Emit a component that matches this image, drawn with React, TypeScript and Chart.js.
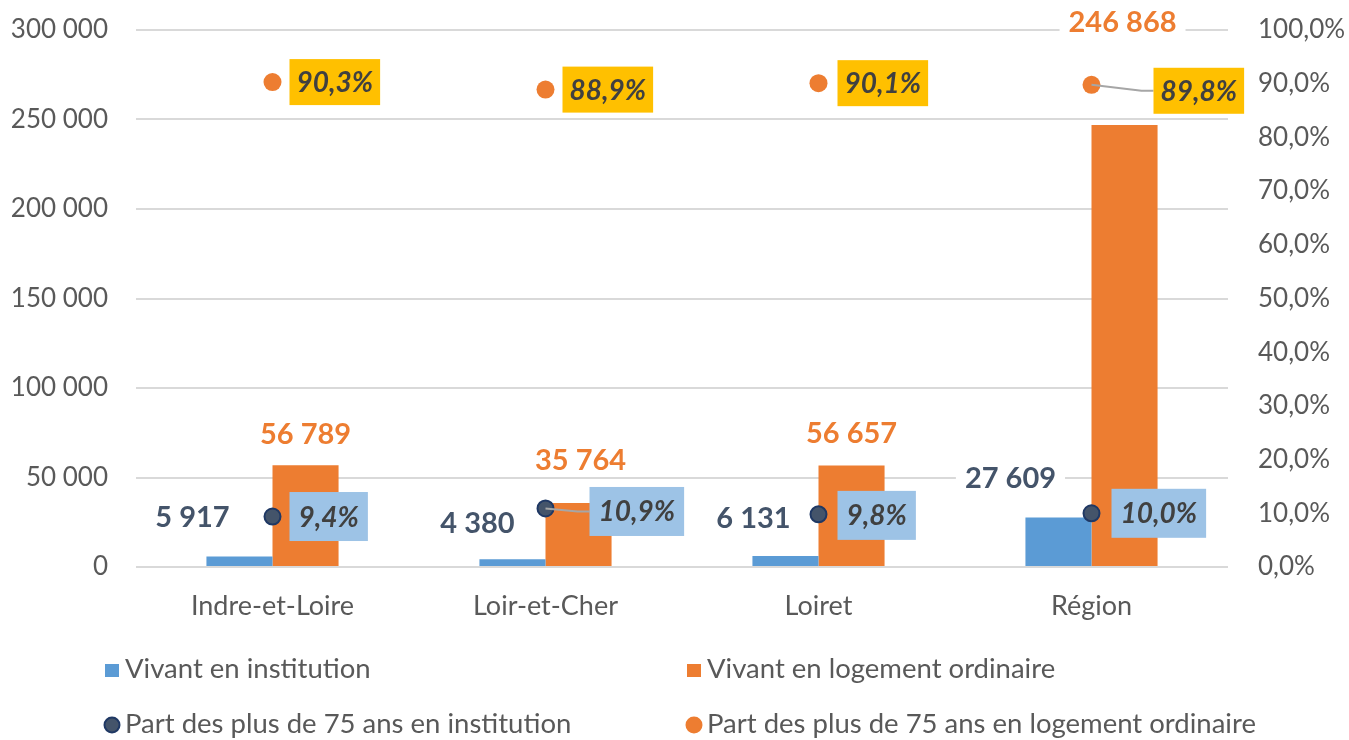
import { useEffect, useRef } from 'react';
import { Chart, registerables } from 'chart.js';

Chart.register(...registerables);

const categories = ['Indre-et-Loire', 'Loir-et-Cher', 'Loiret', 'Région'];
const institution = [5917, 4380, 6131, 27609];
const ordinaire = [56789, 35764, 56657, 246868];
const partInstitution = [9.4, 10.9, 9.8, 10.0];
const partOrdinaire = [90.3, 88.9, 90.1, 89.8];
const seriesNames = [
  'Vivant en institution',
  'Vivant en logement ordinaire',
  'Part des plus de 75 ans en institution',
  'Part des plus de 75 ans en logement ordinaire',
];

// label placement (offsets in px, relative to the mark)
const instLabelOffsets = [[-47, -40], [-35, -37], [-32, -38], [-48, -40]];
const ordLabelOffsets = [[0, -32], [2, -43], [0, -33], [-2, -103]];
const partInstBox = [[17, 0, 0], [44, 3, 1], [19, 1, 0], [20, 0, 0]];
const partOrdBox = [[17, 0, 0], [17, 0, 0], [19, 0, 0], [62, 6, 1]];

const FONT = 'Lato, "Open Sans", sans-serif';
const BLUE = '#5B9BD5';
const ORANGE = '#ED7D31';
const NAVY = '#44546A';
const NAVY_BORDER = '#1F3864';
const YELLOW = '#FFC000';
const LIGHTBLUE = '#9DC3E6';
const AXIS_TEXT = '#595959';

const fmtNum = (v: number) => String(Math.round(v)).replace(/\B(?=(\d{3})+(?!\d))/g, ' ');
const fmtPct = (v: number) => v.toFixed(1).replace('.', ',') + '%';

const labelsPlugin = {
  id: 'customLabels',
  afterDatasetsDraw(chart: any) {
    const ctx = chart.ctx;
    ctx.save();
    const drawValue = (metaIdx: number, values: number[], offs: number[][], color: string) => {
      const meta = chart.getDatasetMeta(metaIdx);
      meta.data.forEach((bar: any, i: number) => {
        const txt = fmtNum(values[i]);
        ctx.font = `bold 29px ${FONT}`;
        const w = ctx.measureText(txt).width;
        const cx = bar.x + offs[i][0];
        const cy = bar.y + offs[i][1];
        ctx.fillStyle = '#FFFFFF';
        ctx.fillRect(cx - w / 2 - 9, cy - 15, w + 18, 30);
        ctx.fillStyle = color;
        ctx.textAlign = 'center';
        ctx.textBaseline = 'middle';
        ctx.fillText(txt, cx, cy + 1);
      });
    };
    drawValue(0, institution, instLabelOffsets, NAVY);
    drawValue(1, ordinaire, ordLabelOffsets, ORANGE);

    const drawBoxes = (metaIdx: number, values: number[], offs: number[][], bg: string, pad: number, h: number) => {
      const meta = chart.getDatasetMeta(metaIdx);
      meta.data.forEach((pt: any, i: number) => {
        const txt = fmtPct(values[i]);
        ctx.font = `italic bold 28px ${FONT}`;
        const w = ctx.measureText(txt).width;
        const left = pt.x + offs[i][0];
        const cy = pt.y + offs[i][1];
        if (offs[i][2]) {
          ctx.strokeStyle = '#A6A6A6';
          ctx.lineWidth = 2;
          ctx.beginPath();
          ctx.moveTo(pt.x, pt.y);
          ctx.lineTo(left - 12, cy);
          ctx.lineTo(left, cy);
          ctx.stroke();
        }
        ctx.fillStyle = bg;
        ctx.fillRect(left, cy - h / 2, w + pad * 2, h);
        ctx.fillStyle = '#404040';
        ctx.textAlign = 'left';
        ctx.textBaseline = 'middle';
        ctx.fillText(txt, left + pad, cy + 1);
      });
    };
    drawBoxes(2, partInstitution, partInstBox, LIGHTBLUE, 9, 49);
    drawBoxes(3, partOrdinaire, partOrdBox, YELLOW, 7, 46);
    ctx.restore();
  },
  afterDraw(chart: any) {
    const ctx = chart.ctx;
    ctx.save();
    const cols = [105, 687];
    const rows = [669, 724];
    const items = [
      { t: 'rect', c: BLUE, b: BLUE, col: 0, row: 0 },
      { t: 'rect', c: ORANGE, b: ORANGE, col: 1, row: 0 },
      { t: 'circle', c: NAVY, b: NAVY_BORDER, col: 0, row: 1 },
      { t: 'circle', c: ORANGE, b: ORANGE, col: 1, row: 1 },
    ];
    items.forEach((it, i) => {
      const x = cols[it.col];
      const y = rows[it.row];
      ctx.fillStyle = it.c;
      if (it.t === 'rect') {
        ctx.fillRect(x, y - 5, 14, 13);
      } else {
        ctx.beginPath();
        ctx.arc(x + 7, y + 1, 7.5, 0, Math.PI * 2);
        ctx.fill();
        ctx.strokeStyle = it.b;
        ctx.lineWidth = 2;
        ctx.stroke();
      }
      ctx.fillStyle = AXIS_TEXT;
      ctx.font = `27.5px ${FONT}`;
      ctx.textAlign = 'left';
      ctx.textBaseline = 'middle';
      ctx.fillText(seriesNames[i], x + 20, y);
    });
    ctx.restore();
  },
};

export default function App() {
  const ref = useRef<HTMLCanvasElement | null>(null);
  useEffect(() => {
    document.body.style.margin = '0';
    if (!ref.current) return;
    const chart = new Chart(ref.current, {
      type: 'bar',
      data: {
        labels: categories,
        datasets: [
          {
            type: 'bar',
            label: seriesNames[0],
            data: institution,
            backgroundColor: BLUE,
            yAxisID: 'y',
            order: 2,
            barPercentage: 1,
            categoryPercentage: 0.484,
          },
          {
            type: 'bar',
            label: seriesNames[1],
            data: ordinaire,
            backgroundColor: ORANGE,
            yAxisID: 'y',
            order: 2,
            barPercentage: 1,
            categoryPercentage: 0.484,
          },
          {
            type: 'line',
            label: seriesNames[2],
            data: partInstitution,
            yAxisID: 'y1',
            showLine: false,
            pointRadius: 8,
            pointBackgroundColor: NAVY,
            pointBorderColor: NAVY_BORDER,
            pointBorderWidth: 2,
            order: 0,
          },
          {
            type: 'line',
            label: seriesNames[3],
            data: partOrdinaire,
            yAxisID: 'y1',
            showLine: false,
            pointRadius: 9,
            pointBackgroundColor: ORANGE,
            pointBorderColor: ORANGE,
            pointBorderWidth: 0,
            order: 0,
          },
        ],
      },
      options: {
        responsive: false,
        animation: false,
        layout: { padding: { top: 30, bottom: 113, left: 0, right: 0 } },
        plugins: { legend: { display: false }, tooltip: { enabled: false } },
        scales: {
          x: {
            grid: { display: false },
            border: { display: false },
            ticks: { color: AXIS_TEXT, font: { family: FONT, size: 27 }, padding: 15 },
            afterFit: (s: any) => { s.height = 60; },
          },
          y: {
            position: 'left',
            min: 0,
            max: 300000,
            ticks: {
              stepSize: 50000,
              color: AXIS_TEXT,
              font: { family: FONT, size: 26 },
              padding: 28,
              callback: (v: any) => fmtNum(Number(v)),
            },
            grid: { color: '#D9D9D9', lineWidth: 2, drawTicks: false },
            border: { display: false },
            afterFit: (s: any) => { s.width = 136; s.paddingTop = 0; s.paddingBottom = 0; },
          },
          y1: {
            position: 'right',
            min: 0,
            max: 100,
            ticks: {
              stepSize: 10,
              color: AXIS_TEXT,
              font: { family: FONT, size: 26 },
              padding: 30,
              callback: (v: any) => fmtPct(Number(v)),
            },
            grid: { display: false, drawTicks: false },
            border: { display: false },
            afterFit: (s: any) => { s.width = 121; s.paddingTop = 0; s.paddingBottom = 0; },
          },
        },
      },
      plugins: [labelsPlugin],
    });
    return () => chart.destroy();
  }, []);
  return (
    <div style={{ width: 1349, height: 740, background: '#FFFFFF' }}>
      <canvas ref={ref} width={1349} height={740} style={{ display: 'block' }} />
    </div>
  );
}
